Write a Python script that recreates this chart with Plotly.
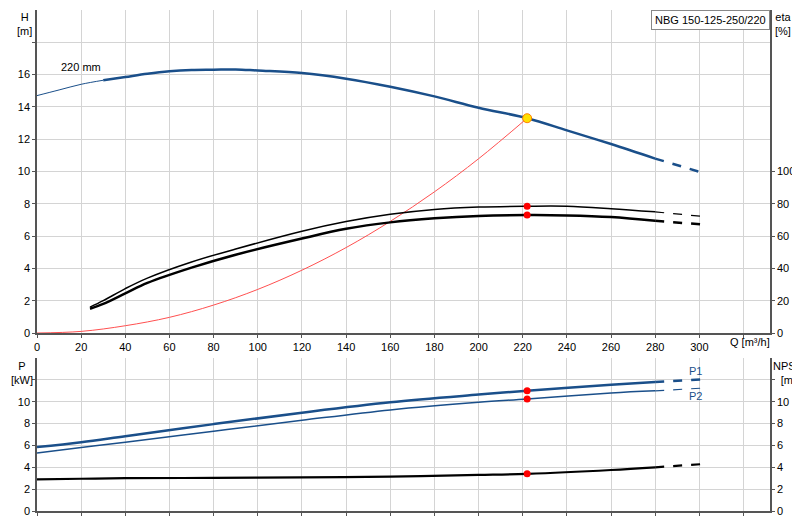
import plotly.graph_objects as go

# ---- data ----
q_h = [0, 10, 20, 30, 40, 50, 60, 70, 80, 90, 100, 120, 140, 160, 180, 200, 222, 240, 260, 280, 302]
h = [14.7, 15.05, 15.4, 15.65, 15.85, 16.05, 16.2, 16.28, 16.3, 16.32, 16.25, 16.1, 15.75, 15.25, 14.65, 13.95, 13.3, 12.55, 11.7, 10.8, 9.9]
q_sys = [0, 20, 40, 60, 80, 100, 120, 140, 160, 180, 200, 222]
h_sys = [0, 0.1, 0.45, 0.97, 1.73, 2.7, 3.89, 5.29, 6.91, 8.74, 10.79, 13.3]
q_eta = [24, 30, 40, 50, 70, 90, 120, 140, 160, 180, 200, 222, 240, 260, 280, 303]
eta_upper = [16, 20, 27.5, 34, 44, 52, 63, 69, 73.5, 76.5, 78, 78.5, 78.5, 77, 75, 72]
eta_lower = [15, 18, 24.5, 31, 40.5, 48.5, 58.5, 64.5, 68.5, 71, 72.5, 73, 72.8, 71.8, 69.5, 67]
q_p = [0, 20, 40, 80, 120, 160, 200, 222, 260, 280, 302]
p1 = [5.85, 6.3, 6.85, 7.95, 9.0, 9.95, 10.65, 11.0, 11.55, 11.8, 12.05]
p2 = [5.3, 5.8, 6.3, 7.3, 8.3, 9.25, 9.95, 10.25, 10.8, 11.0, 11.25]
npsh = [2.9, 2.95, 3.0, 3.03, 3.08, 3.15, 3.3, 3.4, 3.75, 4.0, 4.3]
q_duty = 222
h_duty = 13.3
eta_duty = [78.5, 73]
p_duty = [11.0, 10.25]
npsh_duty = 3.4

BLUE = "#1a4f8a"
fig = go.Figure()

def split(xs, ys, lo=None, hi=280):
    solid = [(x, y) for x, y in zip(xs, ys) if x <= hi and (lo is None or x >= lo)]
    dash = [(x, y) for x, y in zip(xs, ys) if x >= hi]
    return solid, dash

def add(pts, color, width, dash, xa, ya):
    fig.add_trace(go.Scatter(x=[p[0] for p in pts], y=[p[1] for p in pts], mode="lines",
                             line=dict(color=color, width=width, dash=dash, shape="spline"),
                             xaxis=xa, yaxis=ya, showlegend=False, hoverinfo="skip"))

thin = [(x, y) for x, y in zip(q_h, h) if x <= 30]
s, d = split(q_h, h, lo=30)
add(thin, BLUE, 1, "solid", "x", "y")
add(s, BLUE, 2.5, "solid", "x", "y")
add(d, BLUE, 2.5, "dash", "x", "y")
add(list(zip(q_sys, h_sys)), "#ff5050", 1, "solid", "x", "y")
s, d = split(q_eta, eta_upper)
add(s, "black", 1.5, "solid", "x", "y3"); add(d, "black", 1.2, "dash", "x", "y3")
s, d = split(q_eta, eta_lower)
add(s, "black", 2.5, "solid", "x", "y3"); add(d, "black", 2.5, "dash", "x", "y3")
s, d = split(q_p, p1)
add(s, BLUE, 2.5, "solid", "x2", "y2"); add(d, BLUE, 2.5, "dash", "x2", "y2")
s, d = split(q_p, p2)
add(s, BLUE, 1.5, "solid", "x2", "y2"); add(d, BLUE, 1.2, "dash", "x2", "y2")
s, d = split(q_p, npsh)
add(s, "black", 2.2, "solid", "x2", "y4"); add(d, "black", 2.2, "dash", "x2", "y4")

fig.add_trace(go.Scatter(x=[q_duty, q_duty], y=eta_duty, mode="markers", marker=dict(color="red", size=7),
                         xaxis="x", yaxis="y3", showlegend=False))
fig.add_trace(go.Scatter(x=[q_duty], y=[h_duty], mode="markers",
                         marker=dict(color="#ffe000", size=9, line=dict(color="#ff8000", width=1)),
                         xaxis="x", yaxis="y", showlegend=False))
fig.add_trace(go.Scatter(x=[q_duty, q_duty], y=p_duty, mode="markers", marker=dict(color="red", size=7),
                         xaxis="x2", yaxis="y2", showlegend=False))
fig.add_trace(go.Scatter(x=[q_duty], y=[npsh_duty], mode="markers", marker=dict(color="red", size=7),
                         xaxis="x2", yaxis="y4", showlegend=False))

FONT = dict(family="Liberation Sans, Arial", size=11, color="black")
GRID = "#d4d4d4"
AX = "#555555"
xr = [0, 332]
line_common = dict(showline=True, linecolor=AX, linewidth=1.5, ticks="outside", ticklen=3,
                   tickcolor=AX, automargin=False, zeroline=False)
ax_common = dict(range=xr, showgrid=True, gridcolor=GRID, tickvals=list(range(0, 321, 20)), **line_common)

T, B = 2, 17
H_PLOT = 520 - T - B
def py2paper(py):
    return (520 - B - py) / H_PLOT

fig.update_layout(
    width=800, height=520, margin=dict(l=29, r=38, t=T, b=B),
    paper_bgcolor="white", plot_bgcolor="white", font=FONT,
    xaxis=dict(domain=[0, 1], anchor="y", ticktext=[str(v) for v in range(0, 301, 20)] + [""], **ax_common),
    xaxis2=dict(domain=[0, 1], anchor="y2", showticklabels=False, **ax_common),
    yaxis=dict(domain=[py2paper(325), 1], range=[0, 20], tickvals=list(range(0, 19, 2)),
               ticktext=[str(v) for v in range(0, 17, 2)] + [""], showgrid=True, gridcolor=GRID, **line_common),
    yaxis3=dict(overlaying="y", side="right", anchor="x", range=[0, 200], tickvals=list(range(0, 101, 20)),
                showgrid=False, **line_common),
    yaxis2=dict(domain=[0, py2paper(350)], anchor="x2", range=[0, 14], tickvals=list(range(0, 13, 2)),
                ticktext=[str(v) for v in range(0, 11, 2)] + [""], showgrid=True, gridcolor=GRID, **line_common),
    yaxis4=dict(overlaying="y2", side="right", anchor="x2", range=[0, 14], tickvals=list(range(0, 13, 2)),
                ticktext=[str(v) for v in range(0, 11, 2)] + [""], showgrid=False, **line_common),
)

ann = [
    ("H<br>[m]", 16, 1, "center", "top"),
    ("eta<br>[%]", 775, 1, "center", "top"),
    ("P<br>[kW]", 14, 350, "center", "top"),
    ("NPSH<br>[m]", 780, 350, "center", "top"),
    ("Q [m³/h]", 742, 334, "center", "middle"),
]
for text, px, py, xa, ya in ann:
    fig.add_annotation(text=text, x=(px - 29) / (800 - 29 - 38), y=py2paper(py), xref="paper", yref="paper",
                       xanchor=xa, yanchor=ya, showarrow=False, font=FONT, align="center")
fig.add_annotation(text="220 mm", x=20, y=16, xref="x", yref="y", xanchor="center", yanchor="bottom",
                   showarrow=False, font=FONT)
fig.add_annotation(text="NBG 150-125-250/220", x=1, y=1, xref="paper", yref="paper", xanchor="right",
                   yanchor="top", showarrow=False, font=FONT, bordercolor="#888888", borderwidth=1,
                   bgcolor="white", borderpad=3)
fig.add_annotation(text="P1", x=302, y=12.05, xref="x2", yref="y2", xanchor="right", yanchor="bottom",
                   showarrow=False, font=dict(family="Liberation Sans, Arial", size=11, color=BLUE))
fig.add_annotation(text="P2", x=302, y=11.25, xref="x2", yref="y2", xanchor="right", yanchor="top",
                   showarrow=False, font=dict(family="Liberation Sans, Arial", size=11, color=BLUE))

fig.write_html("out.html")
